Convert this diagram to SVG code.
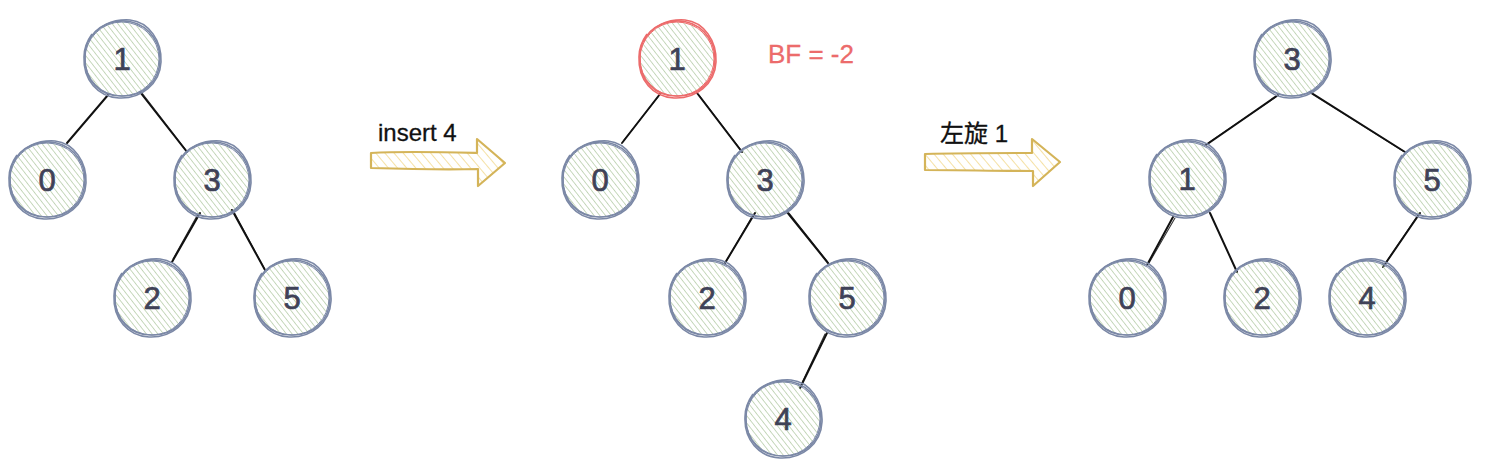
<svg xmlns="http://www.w3.org/2000/svg" xmlns:xlink="http://www.w3.org/1999/xlink" width="1486" height="468" viewBox="0 0 1486 468">
<style>
.num{font-family:"Liberation Sans",Helvetica,Arial,sans-serif;font-size:31px;fill:#3f4257;stroke:#3f4257;stroke-width:0.7;text-anchor:middle;dominant-baseline:central}
.lbl{font-family:"Liberation Sans","Noto Sans CJK SC",Helvetica,Arial,sans-serif;font-size:24px;fill:#111;stroke:#111;stroke-width:0.3}
.bf{font-family:"Liberation Sans",Helvetica,Arial,sans-serif;font-size:26px;fill:#ec6b6b;stroke:#ec6b6b;stroke-width:0.3}
.edge{stroke:#111;stroke-width:2;fill:none;stroke-linecap:round}
.edge2{stroke:#111;stroke-width:1.1;fill:none;stroke-linecap:round;opacity:.85}
.ring{fill:none;stroke-width:1.6}
.arrow{fill:url(#yhatch);stroke:#d4b459;stroke-width:2.2;stroke-linejoin:round}
</style>
<defs>
<pattern id="ghatch" patternUnits="userSpaceOnUse" width="4.5" height="4.5" patternTransform="rotate(-38)">
<line x1="0" y1="0" x2="0" y2="4.5" stroke="#aac49b" stroke-width="1.3"/>
</pattern>
<pattern id="yhatch" patternUnits="userSpaceOnUse" width="7" height="7" patternTransform="rotate(-40)">
<line x1="0" y1="0" x2="0" y2="7" stroke="#f3d98e" stroke-width="1.6"/>
</pattern>
<g id="node">
<circle cx="0" cy="0" r="37" fill="url(#ghatch)"/>
<path class="ring" d="M -37,-2 C -38,-22 -20,-38 1,-38 C 22,-38 38,-21 38,0 C 38,22 21,38 -1,37 C -22,37 -38,21 -37,-2"/>
<path class="ring" d="M -33,-18 C -26,-34 -8,-40 8,-39 C 27,-37 40,-18 39,3 C 38,25 19,40 -3,39 C -24,38 -39,21 -38,-2 C -38,-10 -35,-18 -30,-25"/>
</g>
</defs>

<g id="connectors">
<!-- tree 1 -->
<line class="edge" x1="108" y1="95" x2="67" y2="143"/>
<line class="edge" x1="140" y1="92" x2="187" y2="152"/>
<line class="edge2" x1="142" y1="93" x2="186" y2="150"/>
<line class="edge" x1="200" y1="213" x2="172" y2="262"/>
<line class="edge2" x1="198" y1="214" x2="173" y2="259"/>
<line class="edge" x1="232" y1="210" x2="265" y2="270"/>
<line class="edge2" x1="234" y1="212" x2="264" y2="268"/>
<!-- tree 2 -->
<line class="edge" x1="660" y1="94" x2="622" y2="143"/>
<line class="edge2" x1="658" y1="97" x2="624" y2="140"/>
<line class="edge" x1="697" y1="93" x2="742" y2="152"/>
<line class="edge2" x1="699" y1="95" x2="741" y2="150"/>
<line class="edge" x1="755" y1="213" x2="725" y2="263"/>
<line class="edge2" x1="753" y1="215" x2="727" y2="260"/>
<line class="edge" x1="787" y1="212" x2="828" y2="263"/>
<line class="edge2" x1="789" y1="213" x2="827" y2="261"/>
<line class="edge" x1="827" y1="333" x2="800" y2="388"/>
<line class="edge2" x1="825" y1="334" x2="801" y2="385"/>
<!-- tree 3 -->
<line class="edge" x1="1278" y1="95" x2="1206" y2="145"/>
<line class="edge2" x1="1276" y1="97" x2="1208" y2="143"/>
<line class="edge" x1="1310" y1="92" x2="1405" y2="152"/>
<line class="edge2" x1="1312" y1="94" x2="1403" y2="151"/>
<line class="edge" x1="1173" y1="217" x2="1147" y2="265"/>
<line class="edge2" x1="1175" y1="218" x2="1149" y2="263"/>
<line class="edge" x1="1210" y1="213" x2="1237" y2="272"/>
<line class="edge" x1="1420" y1="213" x2="1383" y2="267"/>
<line class="edge2" x1="1418" y1="215" x2="1385" y2="264"/>
</g>

<g id="arrow1">
<path class="arrow" d="M 371,153 C 405,151 440,152 477,153 L 477,139 L 505,163 L 478,186 L 478,169 C 440,170 405,169 371,168 Z"/>
<text class="lbl" x="378" y="141">insert 4</text>
</g>
<g id="arrow2">
<path class="arrow" d="M 925,154 C 960,153 995,153 1032,153 L 1032,139 L 1060,162 L 1033,186 L 1033,171 C 995,171 960,170 925,170 Z"/>
<text class="lbl" x="940" y="142">左旋 1</text>
</g>

<!-- tree 1 -->
<g id="t1-n1" transform="translate(122,59)"><use href="#node" stroke="#7b88a6"/><text class="num" x="0" y="0">1</text></g>
<g id="t1-n0" transform="translate(47,180)"><use href="#node" stroke="#7b88a6"/><text class="num" x="0" y="0">0</text></g>
<g id="t1-n3" transform="translate(212,180)"><use href="#node" stroke="#7b88a6"/><text class="num" x="0" y="0">3</text></g>
<g id="t1-n2" transform="translate(152,298)"><use href="#node" stroke="#7b88a6"/><text class="num" x="0" y="0">2</text></g>
<g id="t1-n5" transform="translate(292,298)"><use href="#node" stroke="#7b88a6"/><text class="num" x="0" y="0">5</text></g>

<!-- tree 2 -->
<g id="t2-n1" transform="translate(677,59)"><use href="#node" stroke="#ec6b6b"/><text class="num" x="0" y="0">1</text></g>
<g id="t2-bf"><text class="bf" x="768" y="63">BF = -2</text></g>
<g id="t2-n0" transform="translate(600,180)"><use href="#node" stroke="#7b88a6"/><text class="num" x="0" y="0">0</text></g>
<g id="t2-n3" transform="translate(765,180)"><use href="#node" stroke="#7b88a6"/><text class="num" x="0" y="0">3</text></g>
<g id="t2-n2" transform="translate(707,298)"><use href="#node" stroke="#7b88a6"/><text class="num" x="0" y="0">2</text></g>
<g id="t2-n5" transform="translate(847,298)"><use href="#node" stroke="#7b88a6"/><text class="num" x="0" y="0">5</text></g>
<g id="t2-n4" transform="translate(783,419)"><use href="#node" stroke="#7b88a6"/><text class="num" x="0" y="0">4</text></g>

<!-- tree 3 -->
<g id="t3-n3" transform="translate(1292,59)"><use href="#node" stroke="#7b88a6"/><text class="num" x="0" y="0">3</text></g>
<g id="t3-n1" transform="translate(1187,179)"><use href="#node" stroke="#7b88a6"/><text class="num" x="0" y="0">1</text></g>
<g id="t3-n5" transform="translate(1432,180)"><use href="#node" stroke="#7b88a6"/><text class="num" x="0" y="0">5</text></g>
<g id="t3-n0" transform="translate(1127,298)"><use href="#node" stroke="#7b88a6"/><text class="num" x="0" y="0">0</text></g>
<g id="t3-n2" transform="translate(1262,298)"><use href="#node" stroke="#7b88a6"/><text class="num" x="0" y="0">2</text></g>
<g id="t3-n4" transform="translate(1367,298)"><use href="#node" stroke="#7b88a6"/><text class="num" x="0" y="0">4</text></g>
</svg>
